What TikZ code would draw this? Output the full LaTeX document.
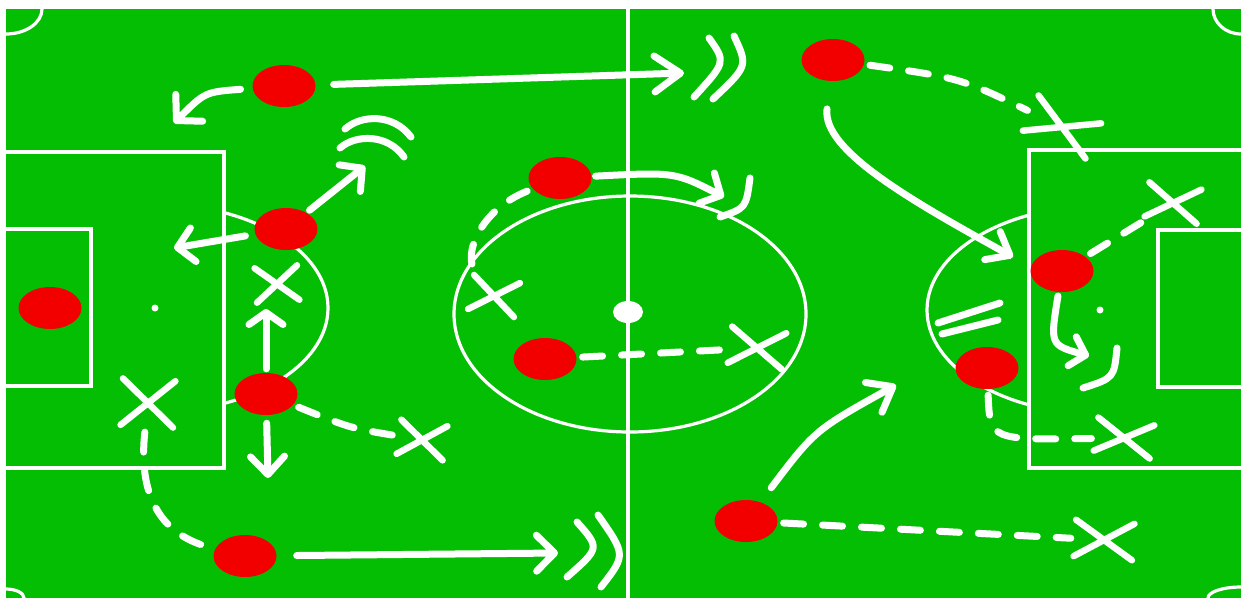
\documentclass[tikz,border=0pt]{standalone}
\usepackage{xcolor}
\usepackage{tikz}
\usetikzlibrary{positioning, arrows.meta, shapes.geometric, shapes.misc}
\definecolor{pitchgreen}{HTML}{04BE04}
\definecolor{playerred}{HTML}{F20000}

\begin{document}
\begin{tikzpicture}[x=1pt, y=-1pt,
  player/.style={ellipse, fill=playerred, minimum width=63pt, minimum height=42pt, inner sep=0pt},
  opp/.style={cross out, draw=white, line width=6.5pt, line cap=round, minimum width=40pt, minimum height=28pt, inner sep=0pt},
  chalk/.style={white, line width=7pt, line cap=round},
  run/.style={chalk, -{Straight Barb[length=16pt, width=34pt, round]}},
  pass/.style={chalk, dash pattern=on 20pt off 19pt, shorten <=6pt, shorten >=4pt},
  pitchline/.style={white, line width=3.2pt}]
  \useasboundingbox (0,0) rectangle (1246,598);
  \fill[white] (0,0) rectangle (1246,598);
  \fill[pitchgreen] (6,9) rectangle (1241,598);

  % pitch markings
  \begin{scope}
    \clip (6,9) rectangle (1241,598);
    \draw[pitchline] (628,9) -- (628,598);
    \draw[pitchline] (630,314) ellipse [x radius=176, y radius=118];
    \fill[white] (628,312) ellipse [x radius=15, y radius=11];
    \draw[pitchline] (6,152) -| (224,468) -- (6,468);
    \draw[pitchline] (6,229) -| (91,386) -- (6,386);
    \fill[white] (155,308) circle (3.5);
    \draw[pitchline] (1241,150) -| (1029,468) -- (1241,468);
    \draw[pitchline] (1241,230) -| (1158,387) -- (1241,387);
    \fill[white] (1100,310) circle (3.5);
    \draw[pitchline] (6,9) ellipse [x radius=36, y radius=25];
    \draw[pitchline] (1241,9) ellipse [x radius=28, y radius=25];
    \draw[pitchline] (6,598) ellipse [x radius=18, y radius=9];
    \draw[pitchline] (1241,598) ellipse [x radius=33, y radius=11];
  \end{scope}
  \begin{scope}
    \clip (224,0) rectangle (628,598);
    \draw[pitchline] (155,308) ellipse [x radius=173, y radius=104];
  \end{scope}
  \begin{scope}
    \clip (600,0) rectangle (1029,598);
    \draw[pitchline] (1100,310) ellipse [x radius=173, y radius=104];
  \end{scope}

  % players
  \node[player] (keeper) at (50,308) {};
  \node[player] (wingtop) at (284,86) {};
  \node[player] (cbtop) at (286,229) {};
  \node[player] (cbbot) at (266,394) {};
  \node[player] (wingbot) at (245,556) {};
  \node[player] (midtop) at (560,178) {};
  \node[player] (midbot) at (545,359) {};
  \node[player] (fwtop) at (833,60) {};
  \node[player] (strtop) at (1062,271) {};
  \node[player] (strbot) at (987,368) {};
  \node[player] (fwbot) at (746,521) {};

  % opponents
  \node[opp, rotate=4, minimum width=36pt] (xa) at (277,284) {};
  \node[opp, rotate=-8] (xb) at (422,440) {};
  \node[opp, rotate=-3, minimum width=46pt, minimum height=40pt] (xc) at (148,403) {};
  \node[opp, rotate=-10] (xd) at (494,296) {};
  \node[opp, rotate=-7, minimum width=48pt, minimum height=30pt] (xe) at (757,348) {};
  \node[opp, rotate=-24, minimum width=62pt, minimum height=32pt] (xf) at (1062,127) {};
  \node[opp, rotate=-8, minimum width=46pt, minimum height=28pt] (xg) at (1173,203) {};
  \node[opp, rotate=-8, minimum width=50pt, minimum height=27pt] (xh) at (1124,438) {};
  \node[opp, rotate=-4, minimum width=52pt, minimum height=30pt] (xi) at (1104,540) {};

  % arrow ends
  \coordinate (pA) at (684,73);
  \coordinate (pB) at (174,123);
  \coordinate (pC) at (365,166);
  \coordinate (pD) at (174,248);
  \coordinate (pE) at (266,309);
  \coordinate (pF) at (268,478);
  \coordinate (pG) at (558,553);
  \coordinate (pH) at (724,197);
  \coordinate (pI) at (1013,257);
  \coordinate (pJ) at (1089,356);
  \coordinate (pK) at (896,385);

  % runs
  \draw[run, shorten <=18pt, -{Straight Barb[length=26pt, width=36pt, round]}] (wingtop) -- (pA);
  \draw[run, shorten <=12pt, -{Straight Barb[length=18pt, width=38pt, round]}] (wingtop) .. controls (205,92) .. (pB);
  \draw[run, shorten <=4pt] (cbtop) -- (pC);
  \draw[run, shorten <=10pt] (cbtop) -- (pD);
  \draw[run, shorten <=4pt, -{Straight Barb[length=12pt, width=34pt, round]}] (cbbot) -- (pE);
  \draw[run, shorten <=8pt, -{Straight Barb[length=18pt, width=34pt, round]}] (cbbot) -- (pF);
  \draw[run, shorten <=20pt, -{Straight Barb[length=18pt, width=36pt, round]}] (wingbot) -- (pG);
  \draw[run, shorten <=4pt] (midtop) .. controls (675,172) .. (pH);
  \draw[run, shorten <=28pt, -{Straight Barb[length=20pt, width=32pt, round]}] (fwtop) .. controls (822,150) and (910,200) .. (pI);
  \draw[run, shorten <=4pt, -{Straight Barb[length=14pt, width=30pt, round]}] (strtop) .. controls (1050,345) .. (pJ);
  \draw[run, shorten <=18pt, -{Straight Barb[length=22pt, width=34pt, round]}] (fwbot) .. controls (815,430) .. (pK);

  % passes
  \draw[pass] (cbbot) .. controls (350,428) .. (xb);
  \draw[pass] (xc) .. controls (138,495) and (160,535) .. (wingbot);
  \draw[pass] (midtop) .. controls (480,210) and (462,255) .. (xd);
  \draw[pass] (midbot) -- (xe);
  \draw[pass] (fwtop) .. controls (960,78) .. (xf);
  \draw[pass] (strtop) -- (xg);
  \draw[pass] (strbot) .. controls (990,440) .. (xh);
  \draw[pass] (fwbot) -- (xi);

  % ball curls
  \draw[chalk] (709,38) .. controls (726,62) .. (694,97);
  \draw[chalk] (734,36) .. controls (748,66) .. (713,99);
  \draw[chalk] (345,129) .. controls (362,114) and (394,114) .. (411,137);
  \draw[chalk] (340,148) .. controls (356,134) and (388,134) .. (404,157);
  \draw[chalk] (577,522) .. controls (600,548) .. (567,577);
  \draw[chalk] (598,515) .. controls (626,555) .. (601,587);
  \draw[chalk] (750,178) .. controls (746,208) .. (720,217);
  \draw[chalk] (1117,348) .. controls (1114,378) .. (1083,388);
  \draw[chalk] (938,323) -- (1000,303);
  \draw[chalk] (942,334) -- (998,320);
\end{tikzpicture}
\end{document}
